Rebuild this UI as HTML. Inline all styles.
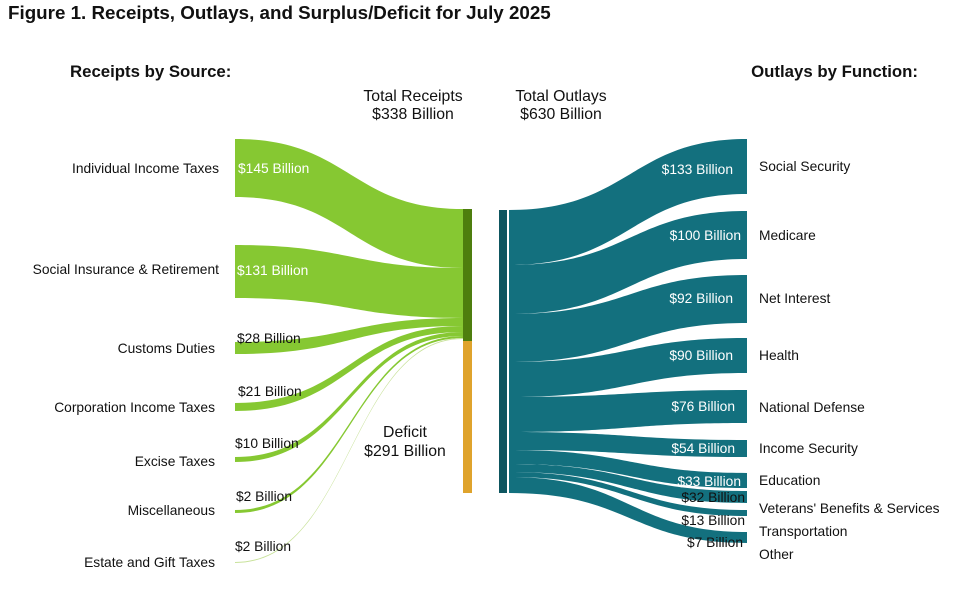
<!DOCTYPE html>
<html><head><style>
body{margin:0;background:#fff;}
svg text{font-family:"Liberation Sans",Arial,sans-serif;}
</style></head><body>
<svg width="960" height="591" viewBox="0 0 960 591" xmlns="http://www.w3.org/2000/svg">
<rect width="960" height="591" fill="#fff"/>
<text x="8" y="19" font-size="18.8" font-weight="bold" fill="#111">Figure 1. Receipts, Outlays, and Surplus/Deficit for July 2025</text>
<text x="70" y="77" font-size="16.8" font-weight="bold" fill="#111">Receipts by Source:</text>
<text x="918" y="77" font-size="16.8" font-weight="bold" fill="#111" text-anchor="end">Outlays by Function:</text>
<g font-size="15.8" fill="#111" text-anchor="middle">
<text x="413" y="101">Total Receipts</text><text x="413" y="119">$338 Billion</text>
<text x="561" y="101">Total Outlays</text><text x="561" y="119">$630 Billion</text>
<text x="405" y="437">Deficit</text><text x="405" y="456">$291 Billion</text>
</g>
<g fill="#86c832">
<path d="M235,139 C350,139 350,209 463,209 L463,268 C350,268 350,197 235,197Z"/>
<path d="M235,245 C350,245 350,268 463,268 L463,318 C350,318 350,298 235,298Z"/>
<path d="M235,342 C350,342 350,318 463,318 L463,326 C350,326 350,354 235,354Z"/>
<path d="M235,403 C350,403 350,326 463,326 L463,332 C350,332 350,411 235,411Z"/>
<path d="M235,457 C350,457 350,332 463,332 L463,336 C350,336 350,462 235,462Z"/>
<path d="M235,510 C350,510 350,336 463,336 L463,338 C350,338 350,513 235,513Z"/>
<path d="M235,562 C350,562 350,338 463,338 L463,339 C350,339 350,563 235,563Z" fill="#c8e29a"/>
</g>
<rect x="463" y="209" width="9" height="132" fill="#4e7e0e"/>
<rect x="463" y="341" width="9" height="152" fill="#dfa32c"/>
<g fill="#13707e">
<path d="M509,210 C630,210 630,139 747,139 L747,194 C630,194 630,265 509,265Z"/>
<path d="M509,265 C630,265 630,211 747,211 L747,259 C630,259 630,314 509,314Z"/>
<path d="M509,314 C630,314 630,275 747,275 L747,323 C630,323 630,362 509,362Z"/>
<path d="M509,362 C630,362 630,338 747,338 L747,373 C630,373 630,397 509,397Z"/>
<path d="M509,397 C630,397 630,390 747,390 L747,423 C630,423 630,432 509,432Z"/>
<path d="M509,432 C630,432 630,440 747,440 L747,457 C630,457 630,450 509,450Z"/>
<path d="M509,450 C630,450 630,473 747,473 L747,488 C630,488 630,464 509,464Z"/>
<path d="M509,464 C630,464 630,491 747,491 L747,503 C630,503 630,472 509,472Z"/>
<path d="M509,472 C630,472 630,510 747,510 L747,516 C630,516 630,477 509,477Z"/>
<path d="M509,477 C630,477 630,532 747,532 L747,543 C630,543 630,493 509,493Z"/>
</g>
<rect x="499" y="210" width="8" height="283" fill="#0e5660"/>
<g font-size="13.8" fill="#111" text-anchor="end">
<text x="219" y="173">Individual Income Taxes</text>
<text x="219" y="274">Social Insurance &amp; Retirement</text>
<text x="215" y="353">Customs Duties</text>
<text x="215" y="412">Corporation Income Taxes</text>
<text x="215" y="466">Excise Taxes</text>
<text x="215" y="515">Miscellaneous</text>
<text x="215" y="567">Estate and Gift Taxes</text>
</g>
<g font-size="13.8">
<text x="238" y="173" fill="#fff">$145 Billion</text>
<text x="237" y="275" fill="#fff">$131 Billion</text>
<text x="237" y="343" fill="#111">$28 Billion</text>
<text x="238" y="396" fill="#111">$21 Billion</text>
<text x="235" y="448" fill="#111">$10 Billion</text>
<text x="236" y="501" fill="#111">$2 Billion</text>
<text x="235" y="551" fill="#111">$2 Billion</text>
</g>
<g font-size="13.8" fill="#fff" text-anchor="end">
<text x="733" y="174">$133 Billion</text>
<text x="741" y="240">$100 Billion</text>
<text x="733" y="303">$92 Billion</text>
<text x="733" y="360">$90 Billion</text>
<text x="735" y="411">$76 Billion</text>
<text x="735" y="453">$54 Billion</text>
<text x="741" y="486">$33 Billion</text>
</g>
<g font-size="13.8" fill="#111" text-anchor="end">
<text x="745" y="502">$32 Billion</text>
<text x="745" y="525">$13 Billion</text>
<text x="743" y="547">$7 Billion</text>
</g>
<g font-size="13.8" fill="#111">
<text x="759" y="171">Social Security</text>
<text x="759" y="240">Medicare</text>
<text x="759" y="303">Net Interest</text>
<text x="759" y="360">Health</text>
<text x="759" y="412">National Defense</text>
<text x="759" y="453">Income Security</text>
<text x="759" y="485">Education</text>
<text x="759" y="513">Veterans' Benefits &amp; Services</text>
<text x="759" y="536">Transportation</text>
<text x="759" y="559">Other</text>
</g>
</svg>
</body></html>
